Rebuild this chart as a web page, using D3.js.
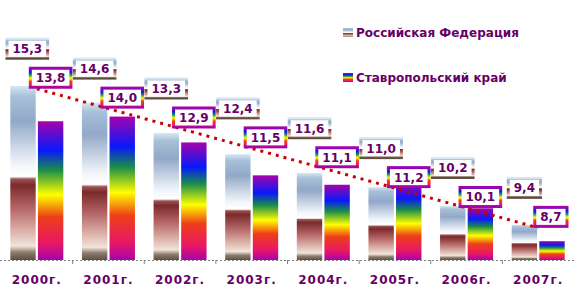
<!DOCTYPE html>
<html>
<head>
<meta charset="utf-8">
<script src="https://cdn.jsdelivr.net/npm/d3@7"></script>
<style>
  body { margin: 0; background: #fff; }
  svg { display: block; }
  text { font-family: "DejaVu Sans", Verdana, sans-serif; font-weight: bold; fill: #660066; }
</style>
</head>
<body>
<div id="chart"></div>
<script>
// chart data
const years = ["2000г.", "2001г.", "2002г.", "2003г.", "2004г.", "2005г.", "2006г.", "2007г."];
const russia = [15.3, 14.6, 13.3, 12.4, 11.6, 11.0, 10.2, 9.4];
const stavropol = [13.8, 14.0, 12.9, 11.5, 11.1, 11.2, 10.1, 8.7];
const seriesNames = ["Российская Федерация", "Ставропольский край"];

const width = 575, height = 304;
const baseY = 260;

const svg = d3.select("#chart").append("svg")
  .attr("width", width)
  .attr("height", height);

// Excel-like preset gradients: "Horizon" and "Rainbow"
const defs = svg.append("defs");
const horizon = [
  [0, "#d8e8f2"], [0.06, "#a8c0d8"], [0.2, "#92a8c8"], [0.45, "#f2f5fa"],
  [0.52, "#ffffff"], [0.535, "#a05252"], [0.57, "#7a2a2a"], [0.7, "#b46464"],
  [0.82, "#d8aaa2"], [0.92, "#f0e4dc"], [0.955, "#8e7e6e"], [1, "#5e4e40"]
];
const rainbow = [
  [0, "#a603ab"], [0.21, "#0819fb"], [0.352, "#1a8d48"], [0.53, "#ffff00"],
  [0.69, "#ee3f17"], [0.88, "#e81766"], [1, "#a603ab"]
];
function addGrad(id, stops) {
  const g = defs.append("linearGradient").attr("id", id)
    .attr("x1", 0).attr("y1", 0).attr("x2", 0).attr("y2", 1);
  stops.forEach(s => g.append("stop").attr("offset", s[0]).attr("stop-color", s[1]));
}
addGrad("gradRF", horizon);
addGrad("gradSK", rainbow);
const fills = ["url(#gradRF)", "url(#gradSK)"];

// scales
const x0 = d3.scaleBand()
  .domain(years)
  .range([1, 574])
  .paddingInner(0.26)
  .paddingOuter(0.13);

const x1 = d3.scaleBand()
  .domain([0, 1])
  .range([0, x0.bandwidth()])
  .paddingInner(0.08);

const y = d3.scaleLinear()
  .domain([7.9, 15.3])
  .range([baseY, 86]);

const series = [russia, stavropol];

// bars
series.forEach((vals, s) => {
  svg.append("g").selectAll("rect")
    .data(vals)
    .enter()
    .append("rect")
    .attr("x", (d, i) => x0(years[i]) + x1(s))
    .attr("y", d => y(d))
    .attr("width", x1.bandwidth())
    .attr("height", d => baseY - y(d))
    .attr("fill", fills[s]);
});

// category axis: dotted baseline with ticks between categories
const axis = svg.append("g");
axis.append("line")
  .attr("x1", 0).attr("x2", width)
  .attr("y1", baseY + 0.5).attr("y2", baseY + 0.5)
  .attr("stroke", "#808080")
  .attr("stroke-dasharray", "2,2");
axis.selectAll("line.tick")
  .data(years.slice(1))
  .enter()
  .append("line")
  .attr("class", "tick")
  .attr("x1", d => x0(d) - x0.step() * x0.paddingInner() / 2)
  .attr("x2", d => x0(d) - x0.step() * x0.paddingInner() / 2)
  .attr("y1", baseY).attr("y2", baseY + 4)
  .attr("stroke", "#808080");

axis.selectAll("text")
  .data(years)
  .enter()
  .append("text")
  .attr("x", d => x0(d) + x0.bandwidth() / 2)
  .attr("y", 284)
  .attr("text-anchor", "middle")
  .attr("font-size", 12)
  .attr("letter-spacing", 1)
  .text(d => d);

// linear trend of the Russian series
const idx = russia.map((d, i) => i);
const mx = d3.mean(idx), my = d3.mean(russia);
const slope = d3.sum(idx, i => (i - mx) * (russia[i] - my)) / d3.sum(idx, i => (i - mx) * (i - mx));
const trend = i => my + slope * (i - mx);
const cx = i => x0(years[i]) + x0.bandwidth() / 2;

svg.append("line")
  .attr("x1", cx(0)).attr("y1", y(trend(0)))
  .attr("x2", cx(years.length - 1)).attr("y2", y(trend(years.length - 1)))
  .attr("stroke", "#cc0000")
  .attr("stroke-width", 3)
  .attr("stroke-dasharray", "3,5");

// value labels in framed boxes
const fmt = v => d3.format(".1f")(v).replace(".", ",");
const lift = [40, 11];
series.forEach((vals, s) => {
  const g = svg.append("g").selectAll("g")
    .data(vals)
    .enter()
    .append("g");
  g.each(function(d, i) {
    const node = d3.select(this);
    const txt = node.append("text")
      .attr("font-size", 12)
      .attr("text-anchor", "middle")
      .text(fmt(d));
    const w = txt.node().getComputedTextLength() + 11;
    const h = 19;
    let c = x0(years[i]) + x1(s) + x1.bandwidth() / 2;
    c = Math.max(c, 7 + w / 2);
    c = Math.min(c, 567 - w / 2);
    const cy = y(trend(i)) - lift[s];
    node.insert("rect", "text")
      .attr("x", c - w / 2)
      .attr("y", cy - h / 2)
      .attr("width", w)
      .attr("height", h)
      .attr("fill", "#fff")
      .attr("stroke", fills[s])
      .attr("stroke-width", 3);
    txt.attr("x", c).attr("y", cy + 4.5);
  });
});

// legend
const legend = svg.append("g").selectAll("g")
  .data(seriesNames)
  .enter()
  .append("g")
  .attr("transform", (d, i) => `translate(343,${28 + i * 45})`);
legend.append("rect")
  .attr("width", 10).attr("height", 9)
  .attr("fill", (d, i) => fills[i]);
legend.append("text")
  .attr("x", 13).attr("y", 9)
  .attr("font-size", 12)
  .text(d => d);
</script>
</body>
</html>
